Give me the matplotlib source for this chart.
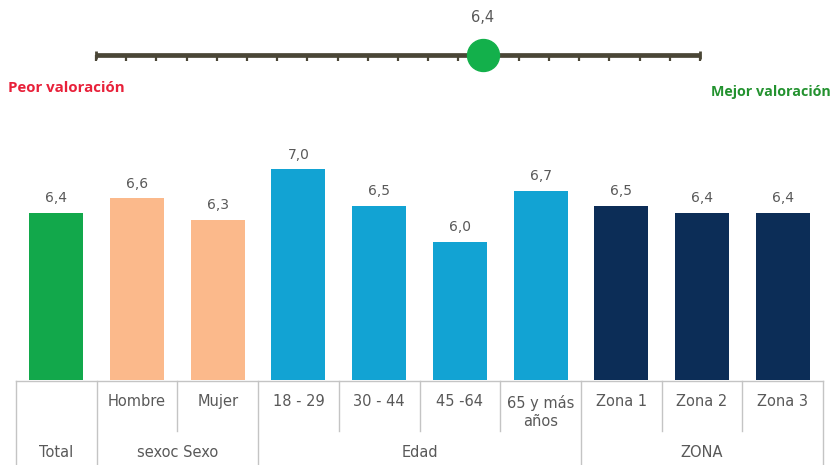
import matplotlib
matplotlib.use("Agg")
import matplotlib.pyplot as plt
from matplotlib.markers import TICKDOWN

# ---- data ----
categories = ["Total", "Hombre", "Mujer", "18 - 29", "30 - 44", "45 -64",
              "65 y más\naños", "Zona 1", "Zona 2", "Zona 3"]
values = [6.4, 6.6, 6.3, 7.0, 6.5, 6.0, 6.7, 6.5, 6.4, 6.4]
groups = ["Total", "sexoc Sexo", "Edad", "ZONA"]
group_spans = [(0, 0), (1, 2), (3, 6), (7, 9)]
group_colors = ["#12a84b", "#fbb98b", "#12a3d3", "#0c2d57"]
overall_score = 6.4
scale_min, scale_max = 0, 10

W, H = 834, 465
fig = plt.figure(figsize=(W / 100, H / 100), dpi=100)
fig.patch.set_facecolor("white")

FONT = "DejaVu Sans"
GREY = "#595959"


def px_axes(left, top, right, bottom):
    return fig.add_axes([left / W, 1 - bottom / H, (right - left) / W, (bottom - top) / H])


def fmt(v):
    return f"{v:.1f}".replace(".", ",")


# ---- slider gauge ----
sax = px_axes(96, 20, 700, 90)
sax.set_xlim(scale_min, scale_max)
sax.set_ylim(-1, 1)
sax.axis("off")
sax.plot([scale_min, scale_max], [0, 0], color="#4a4636", lw=3.4,
         solid_capstyle="butt", clip_on=False, zorder=2)
ticks = [scale_min + 0.5 * i for i in range(int((scale_max - scale_min) / 0.5) + 1)]
sax.plot(ticks, [0] * len(ticks), ls="none", marker=TICKDOWN, ms=4, mew=1.6,
         color="#4a4636", clip_on=False, zorder=1)
sax.plot([scale_min, scale_max], [0, 0], ls="none", marker="|", ms=6, mew=2,
         color="#4a4636", clip_on=False, zorder=2)
sax.plot([overall_score], [0], marker="o", ms=23, color="#13b04b", mec="#13b04b",
         clip_on=False, zorder=3)
sax.annotate(fmt(overall_score), (overall_score, 0), xytext=(0, 27),
             textcoords="offset points", ha="center", va="center",
             fontsize=10.5, color=GREY, family=FONT)

fig.text(8 / W, 1 - 88 / H, "Peor valoración", color="#e8213a", fontsize=10.8,
         fontweight="bold", family="Open Sans", ha="left", va="center")
fig.text(831 / W, 1 - 92 / H, "Mejor valoración", color="#23922f", fontsize=10.3,
         fontweight="bold", family="Open Sans", ha="right", va="center")

# ---- bars ----
ax = px_axes(16, 150, 823, 380)
ymin = 4.09
ymax = 7.267
ax.set_xlim(-0.5, len(categories) - 0.5)
ax.set_ylim(ymin, ymax)
ax.axis("off")

bar_colors = []
for (a, b), c in zip(group_spans, group_colors):
    bar_colors += [c] * (b - a + 1)

x = list(range(len(categories)))
bars = ax.bar(x, [v - ymin for v in values], bottom=ymin, width=0.67,
              color=bar_colors, clip_on=False)
for xi, v in zip(x, values):
    ax.annotate(fmt(v), (xi, v), xytext=(0, 10.5), textcoords="offset points",
                ha="center", va="center", fontsize=10, color=GREY, family=FONT)

# ---- category table ----
tax = px_axes(16, 380, 823, 465)
tax.set_xlim(-0.5, len(categories) - 0.5)
tax.set_ylim(85, 0)
tax.axis("off")
LINE = "#c4c4c4"
tax.plot([-0.5, len(categories) - 0.5], [1, 1], color=LINE, lw=1, clip_on=False)

bounds = [s[0] - 0.5 for s in group_spans] + [group_spans[-1][1] + 0.5]
for bx in bounds:
    tax.plot([bx, bx], [1, 85], color=LINE, lw=1, clip_on=False)
for a, b in group_spans:
    for i in range(a, b):
        tax.plot([i + 0.5, i + 0.5], [1, 51], color=LINE, lw=1, clip_on=False)

for (a, b), g in zip(group_spans, groups):
    if a != b:
        for i in range(a, b + 1):
            lab = categories[i]
            tax.text(i, 21 if "\n" not in lab else 32, lab, ha="center", va="center",
                     fontsize=10.5, color=GREY, family=FONT, linespacing=1.2)
    tax.text((a + b) / 2, 72, g, ha="center", va="center", fontsize=10.5,
             color=GREY, family=FONT)

fig.savefig("out.png", dpi=100, facecolor="white")
